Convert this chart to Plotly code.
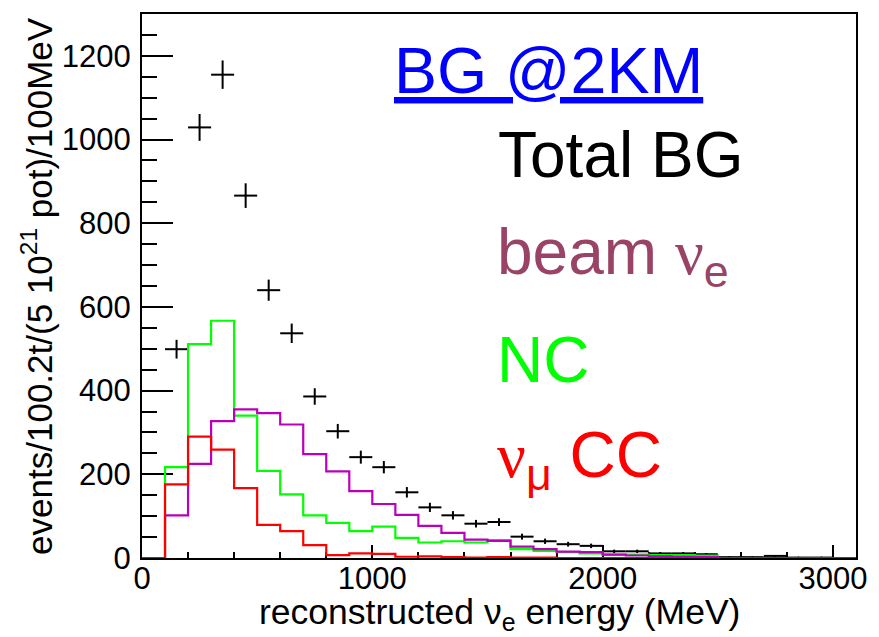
import numpy as np
import plotly.graph_objects as go

# ---- data (100 MeV bins from 0 to 3100 MeV) ----
bin_edges = [e for e in range(0, 3200, 100)]

nc_counts = [0, 217, 511, 567, 340, 208, 152, 102, 84, 64,
             75, 48, 37, 40, 37, 43, 21, 17, 14, 11,
             8, 8, 7, 7, 6, 0, 0, 0, 0, 0, 0]

beam_nue_counts = [0, 102, 225, 327, 355, 346, 319, 248, 207, 160,
                   129, 103, 77, 60, 44, 41, 27, 21, 15, 14,
                   8, 6, 4, 3, 2, 0, 0, 0, 0, 0, 0]

numu_cc_counts = [0, 176, 290, 259, 167, 79, 64, 31, 7, 11,
                  10, 3, 4, 2, 1, 2, 1, 1, 0, 0,
                  0, 0, 0, 0, 0, 0, 0, 0, 0, 0, 0]

total_bg_counts = [0, 499, 1029, 1155, 866, 640, 537, 386, 303, 241,
                   217, 157, 121, 102, 82, 86, 51, 40, 33, 29,
                   16, 16, 11, 11, 9, 2, 2, 5, 1, 1, 0]

x_ticks = [0, 1000, 2000, 3000]
y_ticks = [0, 200, 400, 600, 800, 1000, 1200]

# ---- derived ----
edges = np.array(bin_edges, dtype=float)
centers = 0.5 * (edges[:-1] + edges[1:])
half_w = 0.5 * (edges[1:] - edges[:-1])
tot = np.array(total_bg_counts, dtype=float)
mask = tot > 0

FONT = "Liberation Sans, Arial, sans-serif"
SERIF = "Liberation Serif, DejaVu Serif, serif"

fig = go.Figure()

# total BG as crosses with stat errors
fig.add_trace(go.Scatter(
    x=centers[mask], y=tot[mask], mode="markers",
    marker=dict(size=2, color="black"),
    error_x=dict(type="data", array=half_w[mask], width=0, thickness=2, color="black"),
    error_y=dict(type="data", array=np.sqrt(tot[mask]), width=0, thickness=2, color="black"),
    showlegend=False, hoverinfo="skip"))

def hist_trace(vals, color):
    y = list(vals) + [vals[-1]]
    return go.Scatter(x=edges, y=y, mode="lines", line=dict(shape="hv", color=color, width=2.2),
                      showlegend=False, hoverinfo="skip", cliponaxis=False)

fig.add_trace(hist_trace(nc_counts, "#00ff00"))
fig.add_trace(hist_trace(beam_nue_counts, "#bb00bb"))
fig.add_trace(hist_trace(numu_cc_counts, "#ff0000"))

L, R, T, B = 142, 17, 12, 79
W, H = 879, 637
PW, PH = W - L - R, H - T - B

def px(xp):
    return (xp - L) / PW

def py(yp):
    return (H - B - yp) / PH

ann = []
def add_text(text, xp, yp, color, size=64, xanchor="left", yanchor="middle", angle=0):
    ann.append(dict(text=text, x=px(xp), y=py(yp), xref="paper", yref="paper",
                    xanchor=xanchor, yanchor=yanchor, showarrow=False, textangle=angle,
                    font=dict(family=FONT, size=size, color=color)))

add_text('<span style="text-decoration:underline">BG @2KM</span>', 394, 69, "#0000ff", size=64.5)
add_text("Total BG", 499, 154, "#000000")
add_text('beam <span style="font-family:%s">ν</span><sub>e</sub>' % SERIF, 498, 255, "#994466")
add_text("NC", 498, 359, "#00ff00")
add_text('<span style="font-family:%s">ν</span><sub>μ</sub> CC' % SERIF, 498, 459, "#ff0000")

# axis titles
add_text("reconstructed ν<sub>e</sub> energy (MeV)", L + PW / 2, 614, "#000000", size=35.5, xanchor="center")
add_text("events/100.2t/(5 10<sup>21</sup> pot)/100MeV", 36, T + PH / 2, "#000000", size=35,
         xanchor="center", angle=-90)

axis_common = dict(showgrid=False, zeroline=False, showline=True, linewidth=2, linecolor="black",
                   mirror=True, ticks="inside", tickwidth=2, tickcolor="black", layer="below traces",
                   tickfont=dict(family=FONT, size=31, color="black"))

fig.update_layout(
    width=W, height=H, margin=dict(l=L, r=R, t=T, b=B),
    paper_bgcolor="white", plot_bgcolor="white",
    xaxis=dict(range=[0, 3100], tickvals=x_ticks, ticklen=13, ticklabelstandoff=-8,
               minor=dict(dtick=200, tick0=0, ticklen=6, tickwidth=2, tickcolor="black", ticks="inside",
                          showgrid=False),
               **axis_common),
    yaxis=dict(range=[0, 1300], tickvals=y_ticks, ticklen=31, ticklabelstandoff=3,
               minor=dict(dtick=50, tick0=0, ticklen=15, tickwidth=2, tickcolor="black", ticks="inside",
                          showgrid=False),
               **axis_common),
    annotations=ann,
)

fig.write_html("out.html")
